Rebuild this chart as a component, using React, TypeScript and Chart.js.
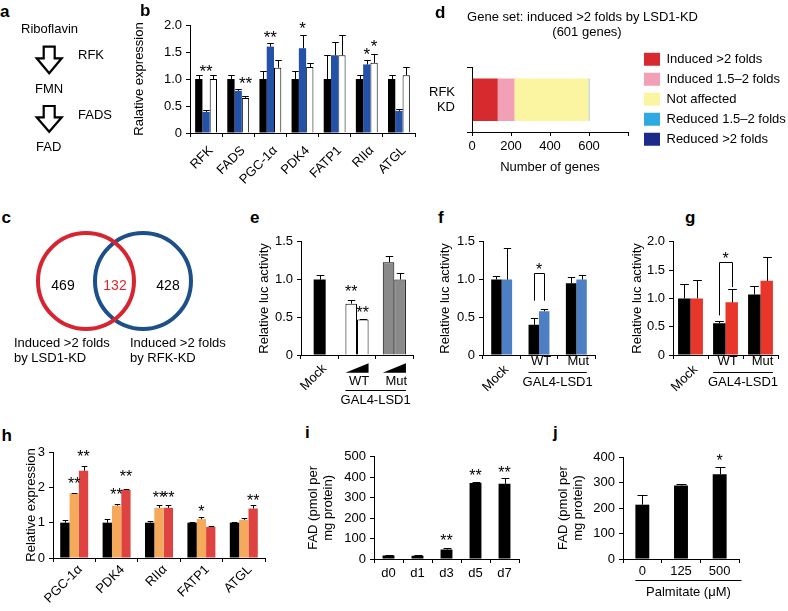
import React, { useEffect, useRef } from 'react';
import { Chart, registerables } from 'chart.js';

Chart.register(...registerables);

const FONT = "'Liberation Sans', Arial, Helvetica, sans-serif";
Chart.defaults.font.family = FONT;
Chart.defaults.font.size = 13;
Chart.defaults.color = '#000';

// ---------------- DATA ----------------
// Panel b
const bGenes = ['RFK', 'FADS', 'PGC-1α', 'PDK4', 'FATP1', 'RIIα', 'ATGL'];
const bCtrl = [1.0, 1.0, 1.0, 1.0, 1.0, 1.0, 1.0];
const bCtrlErr = [0.08, 0.08, 0.14, 0.15, 0.44, 0.08, 0.08];
const bLsd1 = [0.39, 0.78, 1.6, 1.57, 1.44, 1.27, 0.41];
const bLsd1Err = [0.03, 0.04, 0.07, 0.24, 0.25, 0.08, 0.03];
const bRfk = [1.0, 0.65, 1.21, 1.22, 1.44, 1.3, 1.07];
const bRfkErr = [0.08, 0.04, 0.15, 0.08, 0.37, 0.16, 0.15];
const bStars = [
  { cat: 0, ds: 1, text: '**', y: 1.22 },
  { cat: 1, ds: 2, text: '**', y: 0.99 },
  { cat: 2, ds: 1, text: '**', y: 1.85 },
  { cat: 3, ds: 1, text: '*', y: 2.01 },
  { cat: 5, ds: 1, text: '*', y: 1.54 },
  { cat: 5, ds: 2, text: '*', y: 1.69 },
];

// Panel c (Venn)
const vennSets = ['Induced >2 folds by LSD1-KD', 'Induced >2 folds by RFK-KD'];
const vennOnly = [469, 428];
const vennShared = 132;

// Panel d
const dCategory = [['RFK', 'KD']];
const dSegLabels = ['Induced >2 folds', 'Induced 1.5–2 folds', 'Not affected', 'Reduced 1.5–2 folds', 'Reduced >2 folds'];
const dSegCounts = [132, 86, 380, 2, 1];
const dSegColors = ['#d62a2e', '#f1a0b5', '#fbf4a0', '#2eaae1', '#1c2a8a'];
const dTicks = [0, 200, 400, 600];

// Panel e
const eGroups = ['Mock', 'WT', 'Mut'];
const eLow = [1.0, 0.68, 1.23];
const eLowErr = [0.06, 0.05, 0.08];
const eHigh = [null, 0.47, 1.0];
const eHighErr = [null, 0.01, 0.09];
const eStars = [
  { cat: 1, ds: 0, text: '**', y: 0.89 },
  { cat: 1, ds: 1, text: '**', y: 0.61 },
];

// Panel f
const fGroups = ['Mock', 'WT', 'Mut'];
const fBlack = [1.0, 0.4, 0.95];
const fBlackErr = [0.05, 0.09, 0.08];
const fBlue = [1.0, 0.58, 1.0];
const fBlueErr = [0.42, 0.03, 0.06];

// Panel g
const gGroups = ['Mock', 'WT', 'Mut'];
const gBlack = [1.0, 0.56, 1.07];
const gBlackErr = [0.25, 0.04, 0.15];
const gRed = [1.0, 0.93, 1.31];
const gRedErr = [0.33, 0.24, 0.43];

// Panel h
const hGenes = ['PGC-1α', 'PDK4', 'RIIα', 'FATP1', 'ATGL'];
const hCtrl = [1, 1, 1, 1, 1];
const hCtrlErr = [0.07, 0.1, 0.05, 0.02, 0.02];
const hMid = [1.83, 1.48, 1.42, 1.1, 1.08];
const hMidErr = [0.02, 0.05, 0.07, 0.05, 0.05];
const hHigh = [2.47, 1.93, 1.42, 0.88, 1.4];
const hHighErr = [0.13, 0.03, 0.07, 0.02, 0.1];
const hStars = [
  { cat: 0, ds: 1, text: '**', y: 2.2 },
  { cat: 0, ds: 2, text: '**', y: 2.99 },
  { cat: 1, ds: 1, text: '**', y: 1.89 },
  { cat: 1, ds: 2, text: '**', y: 2.41 },
  { cat: 2, ds: 1, text: '**', y: 1.81 },
  { cat: 2, ds: 2, text: '**', y: 1.81 },
  { cat: 3, ds: 1, text: '*', y: 1.42 },
  { cat: 4, ds: 2, text: '**', y: 1.74 },
];

// Panel i
const iDays = ['d0', 'd1', 'd3', 'd5', 'd7'];
const iFad = [17, 16, 46, 372, 368];
const iFadErr = [2, 2, 8, 6, 27];
const iStars = [
  { cat: 2, ds: 0, text: '**', y: 110 },
  { cat: 3, ds: 0, text: '**', y: 425 },
  { cat: 4, ds: 0, text: '**', y: 441 },
];

// Panel j
const jDoses = ['0', '125', '500'];
const jFad = [213, 288, 332];
const jFadErr = [39, 5, 28];
const jStars = [{ cat: 2, ds: 0, text: '*', y: 400 }];

// ---------------- HELPERS ----------------
type Geo = { cx: number; cy: number; cw: number; ch: number; pl: number; pt: number; pr: number; pb: number };

const geoA: Geo = { cx: 0, cy: 40, cw: 120, ch: 100, pl: 0, pt: 40, pr: 120, pb: 140 };
const geoB: Geo = { cx: 130, cy: 10, cw: 291, ch: 190, pl: 190, pt: 25, pr: 415, pb: 133 };
const geoC: Geo = { cx: 30, cy: 225, cw: 170, ch: 112, pl: 30, pt: 225, pr: 200, pb: 337 };
const geoD: Geo = { cx: 420, cy: 40, cw: 368, ch: 135, pl: 472, pt: 60, pr: 628, pb: 132 };
const geoE: Geo = { cx: 255, cy: 230, cw: 165, ch: 180, pl: 301, pt: 241, pr: 413, pb: 355 };
const geoF: Geo = { cx: 436, cy: 230, cw: 166, ch: 170, pl: 483, pt: 241, pr: 595, pb: 355 };
const geoG: Geo = { cx: 628, cy: 230, cw: 160, ch: 170, pl: 673, pt: 240, pr: 778, pb: 355 };
const geoH: Geo = { cx: 22, cy: 440, cw: 252, ch: 171, pl: 53, pt: 452, pr: 265, pb: 558 };
const geoI: Geo = { cx: 304, cy: 445, cw: 222, ch: 150, pl: 374, pt: 454, pr: 519, pb: 559 };
const geoJ: Geo = { cx: 554, cy: 445, cw: 191, ch: 160, pl: 623, pt: 457, pr: 739, pb: 559 };

const fmt1 = (v: number) => (v === 0 ? '0' : v.toFixed(1));
const fmt0 = (v: number) => String(Math.round(v));

function yAxis(g: Geo, min: number, max: number, step: number, fmt: (v: number) => string, title: any, titleCenter: number) {
  const lh = 13 * 1.2;
  return {
    type: 'linear',
    position: 'left',
    min,
    max,
    afterFit: (s: any) => {
      s.width = g.pl - g.cx;
    },
    border: { display: true, color: '#000', width: 1, z: 1 },
    grid: { display: true, drawOnChartArea: false, drawTicks: true, tickLength: 4, color: '#000', lineWidth: 1 },
    ticks: { stepSize: step, padding: 4, color: '#000', font: { size: 13 }, callback: (v: any) => fmt(Number(v)) },
    title: {
      display: true,
      text: title,
      color: '#000',
      font: { size: 13, lineHeight: 1.2 },
      padding: { top: titleCenter - g.cx - lh / 2, bottom: 0 },
    },
  };
}

function xCat(g: Geo, ticks: any) {
  return {
    type: 'category',
    position: 'bottom',
    offset: true,
    afterFit: (s: any) => {
      s.height = g.cy + g.ch - g.pb;
    },
    border: { display: true, color: '#000', width: 1, z: 1 },
    grid: { display: true, offset: true, drawOnChartArea: false, drawTicks: true, tickLength: 4, color: '#000', lineWidth: 1 },
    ticks: { autoSkip: false, color: '#000', font: { size: 13 }, ...ticks },
  };
}

function baseOptions(g: Geo, scales: any, barOpts: any) {
  return {
    responsive: false,
    animation: false,
    events: [],
    layout: { padding: { left: 0, bottom: 0, top: g.pt - g.cy, right: g.cx + g.cw - g.pr } },
    plugins: { legend: { display: false }, tooltip: { enabled: false } },
    datasets: { bar: barOpts },
    scales,
  };
}

function errorBars(errs: any[][], capHalf: number) {
  return {
    id: 'errorBars',
    afterDatasetsDraw(chart: any) {
      const ctx = chart.ctx;
      const ys = chart.scales.y;
      ctx.save();
      ctx.strokeStyle = '#000';
      ctx.lineWidth = 1;
      errs.forEach((arr, di) => {
        const meta = chart.getDatasetMeta(di);
        arr.forEach((e: any, i: number) => {
          const v = chart.data.datasets[di].data[i];
          if (v == null || e == null) return;
          const bar = meta.data[i];
          const x = Math.round(bar.x) + 0.5;
          const y0 = ys.getPixelForValue(v);
          const y1 = Math.round(ys.getPixelForValue(v + e)) + 0.5;
          const hw = bar.width * capHalf;
          ctx.beginPath();
          ctx.moveTo(x, y0);
          ctx.lineTo(x, y1);
          ctx.moveTo(x - hw, y1);
          ctx.lineTo(x + hw, y1);
          ctx.stroke();
        });
      });
      ctx.restore();
    },
  };
}

function starsPlugin(items: any[], size: number) {
  return {
    id: 'stars',
    afterDatasetsDraw(chart: any) {
      const ctx = chart.ctx;
      const ys = chart.scales.y;
      ctx.save();
      ctx.fillStyle = '#000';
      ctx.font = `${size}px ${FONT}`;
      ctx.textAlign = 'center';
      ctx.textBaseline = 'alphabetic';
      items.forEach((s) => {
        const a = chart.getDatasetMeta(s.ds).data[s.cat];
        const b = s.ds2 != null ? chart.getDatasetMeta(s.ds2).data[s.cat] : a;
        const x = (a.x + b.x) / 2;
        const y = ys.getPixelForValue(s.y) + 0.575 * size;
        ctx.fillText(s.text, x, y);
      });
      ctx.restore();
    },
  };
}

function bracketPlugin(o: { cat: number; top: number; legA: number; legB: number }) {
  return {
    id: 'bracket',
    afterDatasetsDraw(chart: any) {
      const ctx = chart.ctx;
      const ys = chart.scales.y;
      const a = chart.getDatasetMeta(0).data[o.cat];
      const b = chart.getDatasetMeta(1).data[o.cat];
      const xa = Math.round(a.x) + 0.5;
      const xb = Math.round(b.x) + 0.5;
      const yt = Math.round(ys.getPixelForValue(o.top)) + 0.5;
      ctx.save();
      ctx.strokeStyle = '#000';
      ctx.lineWidth = 1;
      ctx.beginPath();
      ctx.moveTo(xa, ys.getPixelForValue(o.legA));
      ctx.lineTo(xa, yt);
      ctx.lineTo(xb, yt);
      ctx.lineTo(xb, ys.getPixelForValue(o.legB));
      ctx.stroke();
      ctx.restore();
    },
  };
}

function groupEdges(chart: any, cat: number) {
  let l = Infinity;
  let r = -Infinity;
  chart.data.datasets.forEach((ds: any, di: number) => {
    if (ds.data[cat] == null) return;
    const el = chart.getDatasetMeta(di).data[cat];
    l = Math.min(l, el.x - el.width / 2);
    r = Math.max(r, el.x + el.width / 2);
  });
  return [l, r];
}

function gal4Plugin(o: any) {
  return {
    id: 'gal4',
    afterDraw(chart: any) {
      const ctx = chart.ctx;
      const base = chart.chartArea.bottom;
      ctx.save();
      ctx.fillStyle = '#000';
      ctx.strokeStyle = '#000';
      ctx.lineWidth = 1;
      ctx.font = `13px ${FONT}`;
      ctx.textAlign = 'center';
      ctx.textBaseline = 'middle';
      o.cats.forEach((c: number) => {
        const [l, r] = groupEdges(chart, c);
        if (o.ramp) {
          ctx.beginPath();
          ctx.moveTo(l, base + o.rampBottom);
          ctx.lineTo(r, base + o.rampBottom);
          ctx.lineTo(r, base + o.rampTop);
          ctx.closePath();
          ctx.fill();
        }
        ctx.fillText(chart.data.labels[c], (l + r) / 2 + 2, base + o.nameDy);
      });
      const [l1] = groupEdges(chart, o.cats[0]);
      const [, r2] = groupEdges(chart, o.cats[o.cats.length - 1]);
      const y = Math.round(base + o.lineDy) + 0.5;
      ctx.beginPath();
      ctx.moveTo(l1, y);
      ctx.lineTo(r2, y);
      ctx.stroke();
      ctx.fillText(o.text, (l1 + r2) / 2, base + o.galDy);
      ctx.restore();
    },
  };
}

function palmitatePlugin(o: any) {
  return {
    id: 'palmitate',
    afterDraw(chart: any) {
      const ctx = chart.ctx;
      const base = chart.chartArea.bottom;
      const [l] = groupEdges(chart, 0);
      const r = chart.chartArea.right + 2.5;
      const y = Math.round(base + o.lineDy) + 0.5;
      ctx.save();
      ctx.strokeStyle = '#000';
      ctx.fillStyle = '#000';
      ctx.lineWidth = 1;
      ctx.beginPath();
      ctx.moveTo(l, y);
      ctx.lineTo(r, y);
      ctx.stroke();
      ctx.font = `13px ${FONT}`;
      ctx.textAlign = 'center';
      ctx.textBaseline = 'middle';
      ctx.fillText(o.text, (l + r) / 2, base + o.textDy);
      ctx.restore();
    },
  };
}

const arrowPlugin = {
  id: 'arrows',
  afterDraw(chart: any) {
    const ctx = chart.ctx;
    const shapes = [
      { cx: 49.2, top: 6.7, head: 18.3, tip: 33.3 },
      { cx: 49.2, top: 66, head: 77.3, tip: 91.7 },
    ];
    ctx.save();
    ctx.strokeStyle = '#000';
    ctx.fillStyle = '#fff';
    ctx.lineWidth = 2.2;
    ctx.lineJoin = 'miter';
    shapes.forEach((s) => {
      const sh = 5.5;
      const hh = 12.5;
      ctx.beginPath();
      ctx.moveTo(s.cx - sh, s.top);
      ctx.lineTo(s.cx + sh, s.top);
      ctx.lineTo(s.cx + sh, s.head);
      ctx.lineTo(s.cx + hh, s.head);
      ctx.lineTo(s.cx, s.tip);
      ctx.lineTo(s.cx - hh, s.head);
      ctx.lineTo(s.cx - sh, s.head);
      ctx.closePath();
      ctx.fill();
      ctx.stroke();
    });
    ctx.restore();
  },
};

function legendPlace(x: number, y: number) {
  return {
    id: 'legendPlace',
    afterLayout(chart: any) {
      const lg = chart.legend;
      if (!lg) return;
      lg.left = x;
      lg.top = y;
      lg.width = 200;
      lg.height = 130;
      lg.right = x + 200;
      lg.bottom = y + 130;
    },
  };
}

// ---------------- CONFIGS ----------------
const cfgA = () => ({
  type: 'scatter',
  data: { datasets: [] },
  options: {
    responsive: false,
    animation: false,
    events: [],
    plugins: { legend: { display: false }, tooltip: { enabled: false } },
    scales: { x: { display: false }, y: { display: false } },
  },
  plugins: [arrowPlugin],
});

const cfgB = () => ({
  type: 'bar',
  data: {
    labels: bGenes,
    datasets: [
      { label: 'Control', data: bCtrl, backgroundColor: '#000', borderWidth: 0 },
      { label: 'LSD1-KD', data: bLsd1, backgroundColor: '#2452a6', borderWidth: 0 },
      { label: 'RFK-KD', data: bRfk, backgroundColor: '#fff', borderColor: '#000', borderWidth: 1 },
    ],
  },
  options: baseOptions(
    geoB,
    {
      x: xCat(geoB, { minRotation: 45, maxRotation: 45, padding: 6, labelOffset: 5 }),
      y: yAxis(geoB, 0, 2, 0.5, fmt1, 'Ralative expression', 139),
    },
    { categoryPercentage: 0.68, barPercentage: 1 }
  ),
  plugins: [errorBars([bCtrlErr, bLsd1Err, bRfkErr], 0.45), starsPlugin(bStars, 17)],
});

const vennColors = ['#d8242f', '#1d4f88'];
const cfgC = () => {
  const xMin = -0.982;
  const xMax = 2.0;
  return {
    type: 'scatter',
    data: {
      datasets: vennSets.map((s, i) => ({
        label: `${s} (${vennOnly[i] + vennShared})`,
        data: [{ x: i, y: 0 }],
        pointRadius: 48,
        pointBorderWidth: 4,
        pointBorderColor: vennColors[i],
        pointBackgroundColor: 'rgba(0,0,0,0)',
        borderColor: vennColors[i],
        backgroundColor: 'rgba(0,0,0,0)',
        clip: false,
      })),
    },
    options: {
      responsive: false,
      animation: false,
      events: [],
      layout: { padding: 0, autoPadding: false },
      plugins: { legend: { display: false }, tooltip: { enabled: false } },
      scales: {
        x: { type: 'linear', display: false, min: xMin, max: xMax },
        y: { type: 'linear', display: false, min: -1, max: 1 },
      },
    },
  };
};

const cfgD = () => ({
  type: 'bar',
  data: {
    labels: dCategory,
    datasets: dSegLabels.map((l, i) => ({
      label: l,
      data: [dSegCounts[i]],
      backgroundColor: dSegColors[i],
      borderWidth: 0,
    })),
  },
  options: {
    indexAxis: 'y',
    responsive: false,
    animation: false,
    events: [],
    layout: { padding: { left: 0, bottom: 0, top: geoD.pt - geoD.cy, right: geoD.cx + geoD.cw - geoD.pr - 1 } },
    datasets: { bar: { categoryPercentage: 0.66, barPercentage: 1 } },
    plugins: {
      tooltip: { enabled: false },
      legend: {
        display: true,
        position: 'right',
        align: 'start',
        maxWidth: 1,
        labels: { boxWidth: 16, boxHeight: 13, padding: 7, color: '#000', font: { size: 13 } },
      },
    },
    scales: {
      x: {
        type: 'linear',
        stacked: true,
        min: 0,
        max: 800,
        afterFit: (s: any) => {
          s.height = geoD.cy + geoD.ch - geoD.pb;
        },
        border: { display: true, color: '#000', width: 1, z: 1 },
        grid: { display: true, drawOnChartArea: false, drawTicks: true, tickLength: 4, color: '#000', lineWidth: 1 },
        ticks: {
          stepSize: 200,
          padding: 3,
          color: '#000',
          font: { size: 13 },
          callback: (v: any) => (dTicks.includes(Number(v)) ? String(v) : ''),
        },
        title: { display: true, text: 'Number of genes', padding: 0, color: '#000', font: { size: 13, lineHeight: 1.2 } },
      },
      y: {
        type: 'category',
        stacked: true,
        offset: true,
        afterFit: (s: any) => {
          s.width = geoD.pl - geoD.cx;
        },
        border: { display: true, color: '#000', width: 1, z: 1 },
        grid: { display: true, offset: true, drawOnChartArea: false, drawTicks: true, tickLength: 5, color: '#000', lineWidth: 1 },
        ticks: { padding: 12, color: '#000', font: { size: 13 } },
      },
    },
  },
  plugins: [legendPlace(644 - 7 - geoD.cx, 59.3 - 6.5 - 7 - geoD.cy)],
});

const cfgE = () => ({
  type: 'bar',
  data: {
    labels: eGroups,
    datasets: [
      { label: 'Low dose', data: eLow, backgroundColor: ['#000', '#fff', '#8a8a8a'], borderColor: '#000', borderWidth: [0, 1, 1], skipNull: true },
      { label: 'High dose', data: eHigh, backgroundColor: ['#000', '#fff', '#8a8a8a'], borderColor: '#000', borderWidth: [0, 1, 1], skipNull: true },
    ],
  },
  options: baseOptions(
    geoE,
    {
      x: xCat(geoE, { minRotation: 45, maxRotation: 45, padding: 2, labelOffset: 5, callback: (v: any, i: number) => (i === 0 ? eGroups[0] : '') }),
      y: yAxis(geoE, 0, 1.5, 0.5, fmt1, 'Relative luc activity', 264),
    },
    { categoryPercentage: 0.62, barPercentage: 1, maxBarThickness: 12, skipNull: true }
  ),
  plugins: [
    errorBars([eLowErr, eHighErr], 0.32),
    starsPlugin(eStars, 16),
    gal4Plugin({ cats: [1, 2], ramp: true, rampTop: 8.3, rampBottom: 17.7, nameDy: 26.7, lineDy: 35, galDy: 45, text: 'GAL4-LSD1' }),
  ],
});

const cfgF = () => ({
  type: 'bar',
  data: {
    labels: fGroups,
    datasets: [
      { label: 'Control', data: fBlack, backgroundColor: '#000', borderWidth: 0 },
      { label: 'Treated', data: fBlue, backgroundColor: '#4d7fc5', borderWidth: 0 },
    ],
  },
  options: baseOptions(
    geoF,
    {
      x: xCat(geoF, { minRotation: 45, maxRotation: 45, padding: 3, labelOffset: 5, callback: (v: any, i: number) => (i === 0 ? fGroups[0] : '') }),
      y: yAxis(geoF, 0, 1.5, 0.5, fmt1, 'Relative luc activity', 445),
    },
    { categoryPercentage: 0.56, barPercentage: 1 }
  ),
  plugins: [
    errorBars([fBlackErr, fBlueErr], 0.35),
    bracketPlugin({ cat: 1, top: 1.09, legA: 0.72, legB: 0.72 }),
    starsPlugin([{ cat: 1, ds: 0, ds2: 1, text: '*', y: 1.18 }], 16),
    gal4Plugin({ cats: [1, 2], ramp: false, nameDy: 6.5, lineDy: 17, galDy: 27, text: 'GAL4-LSD1' }),
  ],
});

const cfgG = () => ({
  type: 'bar',
  data: {
    labels: gGroups,
    datasets: [
      { label: 'Control', data: gBlack, backgroundColor: '#000', borderWidth: 0 },
      { label: 'Treated', data: gRed, backgroundColor: '#e8362b', borderWidth: 0 },
    ],
  },
  options: baseOptions(
    geoG,
    {
      x: xCat(geoG, { minRotation: 45, maxRotation: 45, padding: 3, labelOffset: 5, callback: (v: any, i: number) => (i === 0 ? gGroups[0] : '') }),
      y: yAxis(geoG, 0, 2, 0.5, fmt1, 'Relative luc activity', 637.5),
    },
    { categoryPercentage: 0.71, barPercentage: 1 }
  ),
  plugins: [
    errorBars([gBlackErr, gRedErr], 0.35),
    bracketPlugin({ cat: 1, top: 1.64, legA: 0.7, legB: 1.2 }),
    starsPlugin([{ cat: 1, ds: 0, ds2: 1, text: '*', y: 1.77 }], 16),
    gal4Plugin({ cats: [1, 2], ramp: false, nameDy: 6.5, lineDy: 17, galDy: 27, text: 'GAL4-LSD1' }),
  ],
});

const cfgH = () => ({
  type: 'bar',
  data: {
    labels: hGenes,
    datasets: [
      { label: 'Control', data: hCtrl, backgroundColor: '#000', borderWidth: 0 },
      { label: 'Low', data: hMid, backgroundColor: '#f5a95b', borderWidth: 0 },
      { label: 'High', data: hHigh, backgroundColor: '#df4341', borderWidth: 0 },
    ],
  },
  options: baseOptions(
    geoH,
    {
      x: xCat(geoH, { minRotation: 45, maxRotation: 45, padding: 0, labelOffset: 6 }),
      y: yAxis(geoH, 0, 3, 1, fmt0, 'Relative expression', 31),
    },
    { categoryPercentage: 0.66, barPercentage: 1 }
  ),
  plugins: [errorBars([hCtrlErr, hMidErr, hHighErr], 0.3), starsPlugin(hStars, 16)],
});

const cfgI = () => ({
  type: 'bar',
  data: { labels: iDays, datasets: [{ label: 'FAD', data: iFad, backgroundColor: '#000', borderWidth: 0 }] },
  options: baseOptions(
    geoI,
    {
      x: xCat(geoI, { maxRotation: 0, minRotation: 0, padding: 3 }),
      y: yAxis(geoI, 0, 500, 100, fmt0, ['FAD (pmol per', 'mg protein)'], 313.3),
    },
    { categoryPercentage: 0.41, barPercentage: 1 }
  ),
  plugins: [errorBars([iFadErr], 0.33), starsPlugin(iStars, 16)],
});

const cfgJ = () => ({
  type: 'bar',
  data: { labels: jDoses, datasets: [{ label: 'FAD', data: jFad, backgroundColor: '#000', borderWidth: 0 }] },
  options: baseOptions(
    geoJ,
    {
      x: xCat(geoJ, { maxRotation: 0, minRotation: 0, padding: 1 }),
      y: yAxis(geoJ, 0, 400, 100, fmt0, ['FAD (pmol per', 'mg protein)'], 563),
    },
    { categoryPercentage: 0.36, barPercentage: 1 }
  ),
  plugins: [errorBars([jFadErr], 0.36), starsPlugin(jStars, 16), palmitatePlugin({ lineDy: 21, textDy: 33.7, text: 'Palmitate (μM)' })],
});

// ---------------- COMPONENTS ----------------
function ChartBox({ geo, make }: { geo: Geo; make: () => any }) {
  const ref = useRef<HTMLCanvasElement>(null);
  useEffect(() => {
    const chart = new Chart(ref.current as HTMLCanvasElement, make());
    return () => chart.destroy();
  }, []);
  return (
    <canvas
      ref={ref}
      width={geo.cw}
      height={geo.ch}
      style={{ position: 'absolute', left: geo.cx, top: geo.cy, width: geo.cw, height: geo.ch }}
    />
  );
}

function Label({ x, base, text, size = 13, bold = false, color = '#000', anchor = 'start' }: any) {
  const shift = anchor === 'middle' ? '-50%' : anchor === 'end' ? '-100%' : '0';
  return (
    <div
      style={{
        position: 'absolute',
        left: x,
        top: base - 0.8465 * size,
        fontFamily: FONT,
        fontSize: size,
        lineHeight: `${size}px`,
        fontWeight: bold ? 700 : 400,
        color,
        whiteSpace: 'pre',
        transform: `translateX(${shift})`,
      }}
    >
      {text}
    </div>
  );
}

export default function App() {
  const letters = [
    { t: 'a', x: 0, b: 17 },
    { t: 'b', x: 140, b: 16.7 },
    { t: 'c', x: 1.5, b: 223.3 },
    { t: 'd', x: 435, b: 18.3 },
    { t: 'e', x: 250, b: 223.3 },
    { t: 'f', x: 438, b: 223.3 },
    { t: 'g', x: 685, b: 223.5 },
    { t: 'h', x: 1.5, b: 441.7 },
    { t: 'i', x: 305, b: 438.3 },
    { t: 'j', x: 553, b: 438.3 },
  ];
  return (
    <div style={{ position: 'fixed', left: 0, top: 0, width: 788, height: 611, background: '#fff', overflow: 'hidden' }}>
      <ChartBox geo={geoA} make={cfgA} />
      <ChartBox geo={geoB} make={cfgB} />
      <ChartBox geo={geoC} make={cfgC} />
      <ChartBox geo={geoD} make={cfgD} />
      <ChartBox geo={geoE} make={cfgE} />
      <ChartBox geo={geoF} make={cfgF} />
      <ChartBox geo={geoG} make={cfgG} />
      <ChartBox geo={geoH} make={cfgH} />
      <ChartBox geo={geoI} make={cfgI} />
      <ChartBox geo={geoJ} make={cfgJ} />

      {letters.map((l) => (
        <Label key={l.t} x={l.x} base={l.b} text={l.t} size={17} bold />
      ))}

      {/* panel a */}
      <Label x={21} base={32.7} text="Riboflavin" />
      <Label x={78} base={59.3} text="RFK" />
      <Label x={35} base={93.3} text="FMN" />
      <Label x={78} base={119.3} text="FADS" />
      <Label x={36} base={150.7} text="FAD" />

      {/* panel c */}
      <Label x={63} base={290} text={String(vennOnly[0])} size={14} anchor="middle" />
      <Label x={115} base={290} text={String(vennShared)} size={14} anchor="middle" color="#e3262d" />
      <Label x={168} base={290} text={String(vennOnly[1])} size={14} anchor="middle" />
      <Label x={14} base={346.7} text="Induced >2 folds" />
      <Label x={14} base={361.7} text="by LSD1-KD" />
      <Label x={130} base={346.7} text="Induced >2 folds" />
      <Label x={130} base={361.7} text="by RFK-KD" />

      {/* panel d title */}
      <Label x={582.5} base={20.7} text="Gene set: induced >2 folds by LSD1-KD" anchor="middle" />
      <Label x={587} base={35.7} text="(601 genes)" anchor="middle" />
    </div>
  );
}
